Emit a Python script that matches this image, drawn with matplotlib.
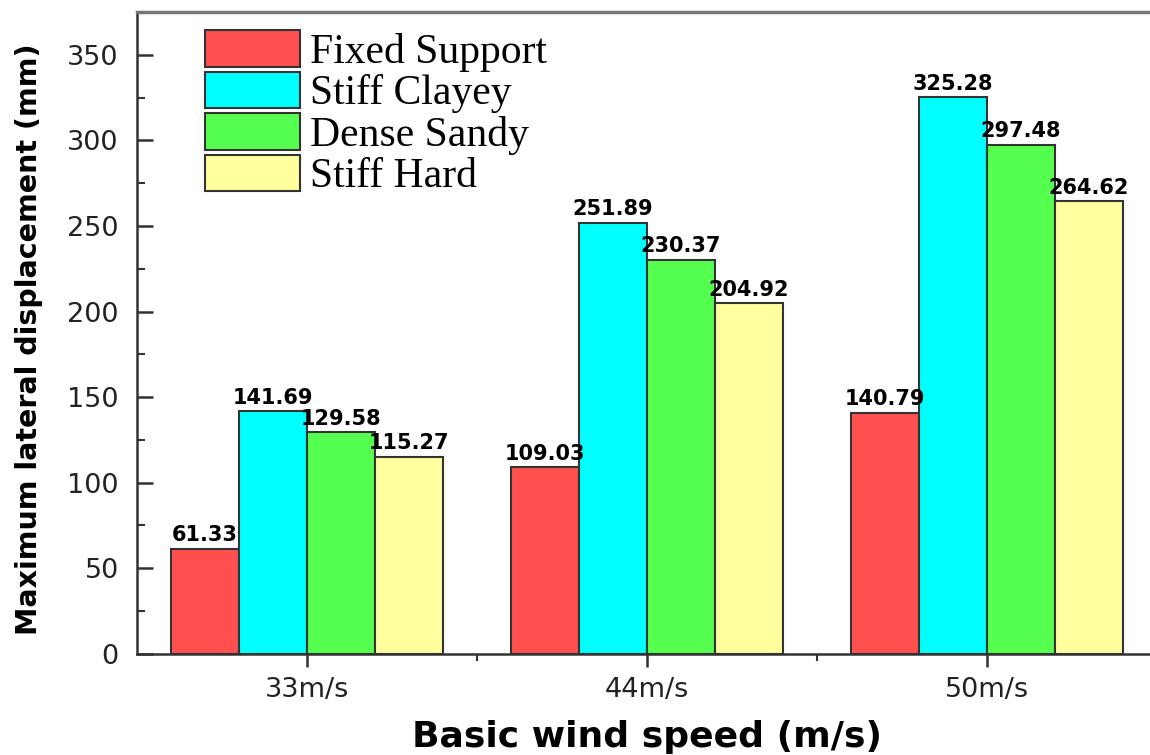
import matplotlib
matplotlib.use("Agg")
import matplotlib.pyplot as plt
import numpy as np
from matplotlib.ticker import MultipleLocator, FixedLocator

speeds = ["33m/s", "44m/s", "50m/s"]
supports = ["Fixed Support", "Stiff Clayey", "Dense Sandy", "Stiff Hard"]
fixed_support = [61.33, 109.03, 140.79]
stiff_clayey = [141.69, 251.89, 325.28]
dense_sandy = [129.58, 230.37, 297.48]
stiff_hard = [115.27, 204.92, 264.62]
colors = ["#ff4f4f", "#00ffff", "#55ff4f", "#ffff9e"]

series = [fixed_support, stiff_clayey, dense_sandy, stiff_hard]
EDGE = "#333333"

fig = plt.figure(figsize=(11.5, 7.55), dpi=100)
ax = fig.add_axes([0.119, 0.134, 0.887, 0.850])

x = np.arange(len(speeds))
w = 0.2
for i, (vals, lab, col) in enumerate(zip(series, supports, colors)):
    pos = x + (i - 1.5) * w
    ax.bar(pos, vals, w, color=col, edgecolor=EDGE, lw=1.5, label=lab)
    for px, v in zip(pos, vals):
        ax.text(px, v + 2, f"{v:.2f}", ha="center", va="bottom",
                fontsize=15, fontweight="bold", family="DejaVu Sans")

ax.set_xlim(-0.5, 2.5)
ax.set_ylim(0, 375)
ax.set_xticks(x, speeds)
ax.xaxis.set_minor_locator(FixedLocator([0.5, 1.5]))
ax.yaxis.set_major_locator(MultipleLocator(50))
ax.yaxis.set_minor_locator(MultipleLocator(25))
ax.tick_params(axis="y", which="major", direction="in", length=11.5,
               width=1.8, labelsize=19.5, color=EDGE, pad=13)
ax.tick_params(axis="y", which="minor", direction="in", length=6,
               width=1.5, color=EDGE)
ax.tick_params(axis="x", which="major", direction="out", length=9.5,
               width=1.8, labelsize=19.5, color=EDGE, pad=7)
ax.tick_params(axis="x", which="minor", direction="out", length=5,
               width=1.5, color=EDGE)
for lbl in ax.get_xticklabels() + ax.get_yticklabels():
    lbl.set_family("DejaVu Sans")
    lbl.set_color("#222222")

ax.spines["right"].set_visible(False)
for s in ("left", "bottom"):
    ax.spines[s].set_linewidth(1.8)
    ax.spines[s].set_color(EDGE)
ax.spines["top"].set_linewidth(2.5)
ax.spines["top"].set_color("#777777")

ax.set_ylabel("Maximum lateral displacement (mm)", fontsize=20.5,
              fontweight="bold", family="DejaVu Sans", va="center")
ax.yaxis.set_label_coords(-0.106, 0.49)
ax.set_xlabel("Basic wind speed (m/s)", fontsize=26, fontweight="bold",
              family="DejaVu Sans", va="center")
ax.xaxis.set_label_coords(0.5, -0.13)

leg = ax.legend(loc="upper left", bbox_to_anchor=(0.0667, 0.972), frameon=False,
                prop={"family": "Liberation Serif", "size": 30},
                handlelength=2.28, handleheight=0.97, labelspacing=0.0,
                handletextpad=0.24, borderaxespad=0, borderpad=0)
for h in leg.legend_handles:
    h.set_edgecolor(EDGE)
    h.set_linewidth(1.5)

fig.savefig("out.png", dpi=100)
